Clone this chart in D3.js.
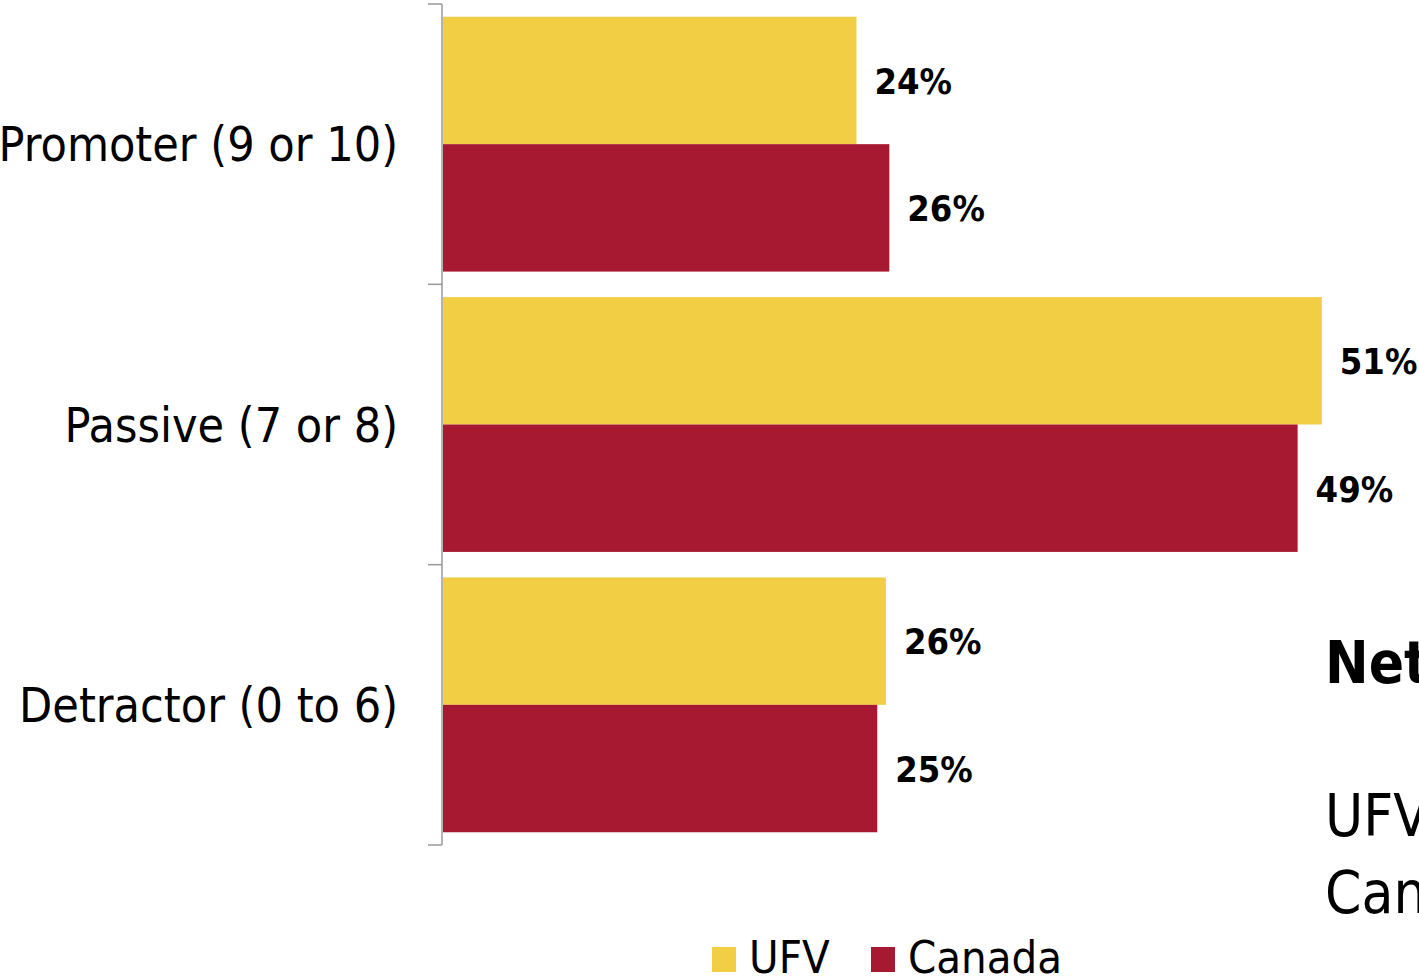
<!DOCTYPE html>
<html>
<head>
<meta charset="utf-8">
<script src="https://cdn.jsdelivr.net/npm/d3@7"></script>
<style>
  html, body { margin: 0; padding: 0; background: #fff; overflow: hidden; }
  svg { display: block; font-family: "DejaVu Sans Condensed", "DejaVu Sans", sans-serif; }
</style>
</head>
<body>
<svg id="chart" width="1419" height="980"></svg>
<script>
// ── Data ──────────────────────────────────────────────────────────────────────
const categories = ['Promoter (9 or 10)', 'Passive (7 or 8)', 'Detractor (0 to 6)'];
const seriesNames = ['UFV', 'Canada'];
const ufvValues    = [23.9, 50.8, 25.6];
const canadaValues = [25.8, 49.4, 25.1];
const seriesColors = ['#f2ce45', '#a61931'];

const W = 1419, H = 980;
const svg = d3.select('#chart');

// ── Scales ────────────────────────────────────────────────────────────────────
const x = d3.scaleLinear().domain([0, 60]).range([443, 443 + 60 * 17.3]);
const y0 = d3.scaleBand().domain(categories).range([4, 845]).padding(0);
const y1 = d3.scaleBand().domain(seriesNames).range([0, y0.bandwidth()])
  .paddingInner(0).paddingOuter(0.1);

const rows = categories.map((c, i) => ({
  cat: c,
  vals: [ufvValues[i], canadaValues[i]]
}));

// ── Bars ──────────────────────────────────────────────────────────────────────
const grp = svg.append('g').selectAll('g').data(rows).join('g')
  .attr('transform', d => `translate(0,${y0(d.cat)})`);

grp.selectAll('rect')
  .data(d => d.vals.map((v, j) => ({ s: seriesNames[j], v, j })))
  .join('rect')
  .attr('x', x(0))
  .attr('y', d => y1(d.s))
  .attr('width', d => x(d.v) - x(0))
  .attr('height', y1.bandwidth())
  .attr('fill', d => seriesColors[d.j]);

grp.selectAll('text.val')
  .data(d => d.vals.map((v, j) => ({ s: seriesNames[j], v, j })))
  .join('text')
  .attr('class', 'val')
  .attr('x', d => x(d.v) + 18)
  .attr('y', d => y1(d.s) + y1.bandwidth() / 2)
  .attr('dy', '0.37em')
  .attr('font-size', 36)
  .attr('font-weight', 'bold')
  .attr('fill', '#000')
  .text(d => Math.round(d.v) + '%');

// ── Category axis ─────────────────────────────────────────────────────────────
const axisG = svg.append('g');
axisG.append('line')
  .attr('x1', 442).attr('x2', 442)
  .attr('y1', y0.range()[0]).attr('y2', y0.range()[1])
  .attr('stroke', '#999').attr('stroke-width', 1.5);

const tickYs = categories.map(c => y0(c)).concat([y0.range()[1]]);
axisG.selectAll('line.tick').data(tickYs).join('line')
  .attr('class', 'tick')
  .attr('x1', 428).attr('x2', 442)
  .attr('y1', d => d).attr('y2', d => d)
  .attr('stroke', '#999').attr('stroke-width', 1.5);

axisG.selectAll('text').data(categories).join('text')
  .attr('x', 398)
  .attr('y', d => y0(d) + y0.bandwidth() / 2)
  .attr('dy', '0.36em')
  .attr('text-anchor', 'end')
  .attr('font-size', 48)
  .attr('fill', '#000')
  .text(d => d);

// ── Legend ────────────────────────────────────────────────────────────────────
const legendX = [712, 871];
const leg = svg.append('g').selectAll('g').data(seriesNames).join('g')
  .attr('transform', (d, i) => `translate(${legendX[i]},947)`);
leg.append('rect').attr('width', 24).attr('height', 25)
  .attr('fill', (d, i) => seriesColors[i]);
leg.append('text').attr('x', 37).attr('y', 26)
  .attr('font-size', 45).attr('fill', '#000')
  .text(d => d);

// ── Side note (clipped at right edge) ─────────────────────────────────────────
const note = svg.append('g').attr('transform', 'translate(1325,0)');
note.append('text').attr('y', 683).attr('font-size', 58).attr('font-weight', 'bold')
  .text('Net Promoter Score');
note.append('text').attr('y', 836).attr('font-size', 58).text('UFV');
note.append('text').attr('y', 913).attr('font-size', 58).text('Canada');
</script>
</body>
</html>
